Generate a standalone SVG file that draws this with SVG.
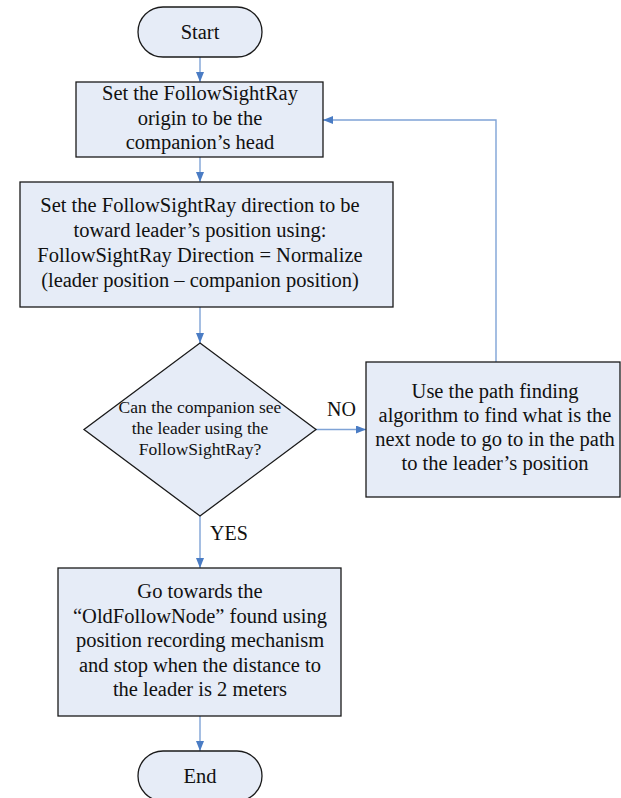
<svg xmlns="http://www.w3.org/2000/svg" width="621" height="798" viewBox="0 0 621 798">
  <defs>
    <marker id="arrow" viewBox="0 0 10 8" refX="10" refY="4" markerWidth="10" markerHeight="8" markerUnits="userSpaceOnUse" orient="auto">
      <path d="M0,0 L10,4 L0,8 z" fill="#4a7cc4"/>
    </marker>
    <style>
      .shape { fill: #e6ecf7; stroke: #1a1a1a; stroke-width: 1.3; }
      text { font-family: 'Liberation Serif', 'DejaVu Serif', 'Times New Roman', serif; fill: #111; }
      .txt { font-size: 20.5px; text-anchor: middle; }
      .small { font-size: 17.5px; }
      .label { font-size: 20px; }
      .conn { fill: none; stroke: #7fa3d6; stroke-width: 1.4; }
    </style>
  </defs>

  <!-- connectors -->
  <g id="connectors">
    <line class="conn" x1="200" y1="57" x2="200" y2="82" marker-end="url(#arrow)"/>
    <line class="conn" x1="200" y1="157" x2="200" y2="182" marker-end="url(#arrow)"/>
    <line class="conn" x1="200" y1="307" x2="200" y2="343" marker-end="url(#arrow)"/>
    <line class="conn" x1="316" y1="429.5" x2="366" y2="429.5" marker-end="url(#arrow)"/>
    <polyline class="conn" points="496,362 496,120 323,120" marker-end="url(#arrow)"/>
    <line class="conn" x1="200" y1="516" x2="200" y2="568" marker-end="url(#arrow)"/>
    <line class="conn" x1="200" y1="716" x2="200" y2="751" marker-end="url(#arrow)"/>
    <text class="label" x="327" y="416">NO</text>
    <text class="label" x="210" y="540">YES</text>
  </g>

  <g id="start">
    <rect class="shape" x="138" y="7" width="124" height="50" rx="25" ry="25"/>
    <text class="txt" x="200" y="39">Start</text>
  </g>

  <g id="set-origin">
    <rect class="shape" x="76" y="82" width="247" height="75"/>
    <text class="txt" x="200" y="100">Set the FollowSightRay</text>
    <text class="txt" x="200" y="125">origin to be the</text>
    <text class="txt" x="200" y="149">companion’s head</text>
  </g>

  <g id="set-direction">
    <rect class="shape" x="20" y="182" width="373" height="125"/>
    <text class="txt" x="200" y="212">Set the FollowSightRay direction to be</text>
    <text class="txt" x="200" y="237">toward leader’s position using:</text>
    <text class="txt" x="200" y="262">FollowSightRay Direction = Normalize</text>
    <text class="txt" x="200" y="287">(leader position – companion position)</text>
  </g>

  <g id="can-see">
    <polygon class="shape" points="200,343 316,429.5 200,516 84,429.5"/>
    <text class="txt small" x="200" y="413">Can the companion see</text>
    <text class="txt small" x="200" y="434">the leader using the</text>
    <text class="txt small" x="200" y="455">FollowSightRay?</text>
  </g>

  <g id="path-finding">
    <rect class="shape" x="366" y="362" width="254" height="135"/>
    <text class="txt" x="495" y="398">Use the path finding</text>
    <text class="txt" x="495" y="422">algorithm to find what is the</text>
    <text class="txt" x="495" y="446">next node to go to in the path</text>
    <text class="txt" x="495" y="470">to the leader’s position</text>
  </g>

  <g id="go-towards">
    <rect class="shape" x="58" y="568" width="283" height="148"/>
    <text class="txt" x="200" y="598">Go towards the</text>
    <text class="txt" x="200" y="623">“OldFollowNode” found using</text>
    <text class="txt" x="200" y="647">position recording mechanism</text>
    <text class="txt" x="200" y="672">and stop when the distance to</text>
    <text class="txt" x="200" y="696">the leader is 2 meters</text>
  </g>

  <g id="end">
    <rect class="shape" x="138" y="751" width="124" height="50" rx="25" ry="25"/>
    <text class="txt" x="200" y="783">End</text>
  </g>
</svg>
